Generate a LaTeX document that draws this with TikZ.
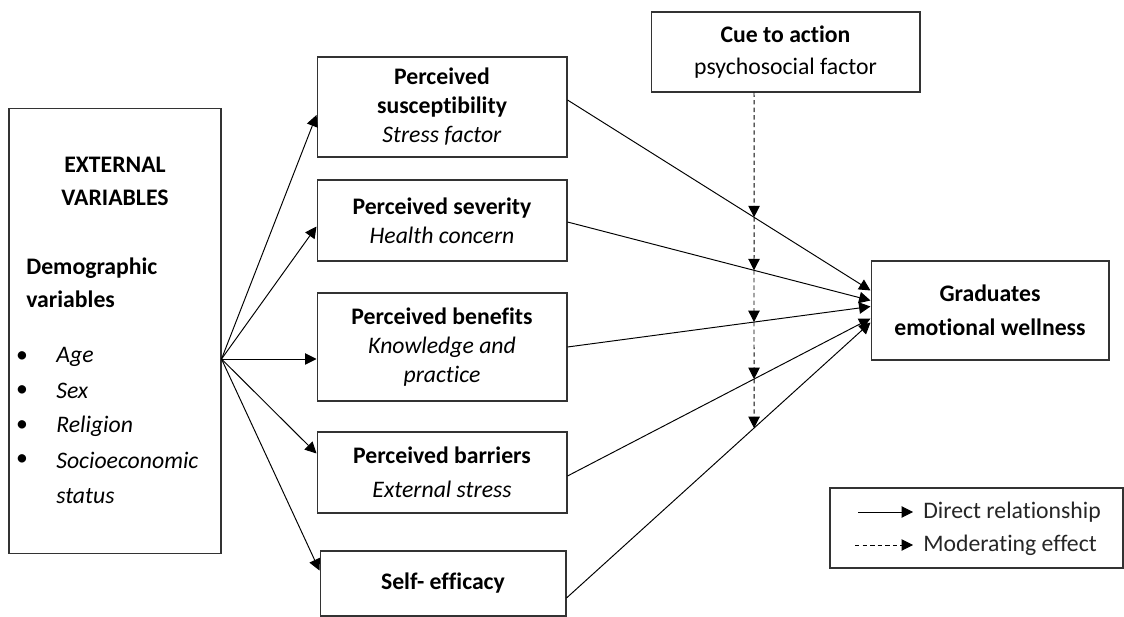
\documentclass[tikz,border=0pt]{standalone}
\usepackage{fontspec}
\setmainfont{Carlito}[Ligatures={NoCommon,NoContextual}, RawFeature={-liga;-clig;-calt;-dlig}]
\usepackage{tikz}
\usetikzlibrary{arrows.meta,positioning,calc}

\begin{document}
\begin{tikzpicture}[
    x=0.02cm, y=-0.02cm,
    box/.style={rectangle, draw=black!80, line width=0.6pt, align=center,
                inner sep=0pt, font=\fontsize{13.5}{16.5}\selectfont},
    txt/.style={inner sep=0pt, font=\fontsize{13.5}{18.5}\selectfont},
    link/.style={line width=0.55pt, -{Triangle[length=6.5pt,width=6.5pt]}},
    modlink/.style={link, dash pattern=on 2.5pt off 1.8pt},
]
    \useasboundingbox (0,0) rectangle (1124,617);

    % External variables
    \node[box, minimum width=4.24cm, minimum height=8.92cm] (ext) at (115,331) {};
    \node[txt, font=\fontsize{13.5}{18.7}\selectfont\bfseries, align=center] (exttitle) at (115,181) {EXTERNAL\\VARIABLES};
    \node[txt, font=\fontsize{13.5}{18.7}\selectfont\bfseries, align=left, anchor=west] (demo) at (26,283) {Demographic\\variables};
    \node[txt] (b1) at (22,357) {•};
    \node[txt, anchor=west, font=\fontsize{13.5}{18.5}\selectfont\itshape] (age) at (56,357) {Age};
    \node[txt] (b2) at (22,391) {•};
    \node[txt, anchor=west, font=\fontsize{13.5}{18.5}\selectfont\itshape] (sex) at (56,391) {Sex};
    \node[txt] (b3) at (22,426) {•};
    \node[txt, anchor=west, font=\fontsize{13.5}{18.5}\selectfont\itshape] (rel) at (56,426) {Religion};
    \node[txt] (b4) at (22,460) {•};
    \node[txt, anchor=west, align=left, font=\fontsize{13.5}{19.8}\selectfont\itshape] (ses) at (56,478) {Socioeconomic\\status};

    % HBM constructs
    \node[box, minimum width=5cm, minimum height=2cm] (sus) at (442,107)
        {\textbf{Perceived}\\\textbf{susceptibility}\\\textit{Stress factor}};
    \node[box, minimum width=5cm, minimum height=1.62cm] (sev) at (442,220.5)
        {\textbf{Perceived severity}\\\textit{Health concern}};
    \node[box, minimum width=5cm, minimum height=2.16cm] (ben) at (442,347)
        {\textbf{Perceived benefits}\\\textit{Knowledge and}\\\textit{practice}};
    \node[box, minimum width=5cm, minimum height=1.62cm] (bar) at (442,472.5)
        {\textbf{Perceived barriers}\\[3pt]\textit{External stress}};
    \node[box, minimum width=4.92cm, minimum height=1.3cm] (self) at (443,583.5)
        {\textbf{Self- efficacy}};

    % Cue and outcome
    \node[box, minimum width=5.38cm, minimum height=1.6cm] (cue) at (785.5,52)
        {\textbf{Cue to action}\\[2pt]psychosocial factor};
    \node[box, minimum width=4.76cm, minimum height=1.98cm] (grad) at (990,310.5)
        {\textbf{Graduates}\\[3pt]\textbf{emotional wellness}};

    % External variables -> constructs
    \coordinate (src) at (ext.east |- 0,359);
    \draw[link] (src) -- ($(sus.west)+(0,8)$);
    \draw[link] (src) -- ($(sev.west)+(0,6)$);
    \draw[link] (src) -- (ben.west |- src);
    \draw[link] (src) -- ($(bar.west)+(0,-19)$);
    \draw[link] (src) -- ($(self.west)+(0,-13)$);

    % Constructs -> wellness
    \coordinate (s1) at ($(sus.east)+(0,-7)$);
    \coordinate (s2) at ($(sev.east)+(0,1.5)$);
    \coordinate (s3) at (ben.east);
    \coordinate (s4) at ($(bar.east)+(0,3.5)$);
    \coordinate (s5) at ($(self.east)+(0,14.5)$);
    \coordinate (e1) at ($(grad.west)+(0,-20)$);
    \coordinate (e2) at ($(grad.west)+(0,-10)$);
    \coordinate (e3) at ($(grad.west)+(0,-4)$);
    \coordinate (e4) at ($(grad.west)+(0,8)$);
    \coordinate (e5) at ($(grad.west)+(0,12)$);
    \foreach \i in {1,...,5}
        \draw[link] (s\i) -- (e\i);

    % Moderating effect of cue to action
    \coordinate (mtop) at ($(cue.south)+(-31.5,0)$);
    \coordinate (mbot) at (mtop |- 0,600);
    \foreach \i in {1,...,5}
        \coordinate (m\i) at (intersection of mtop--mbot and s\i--e\i);
    \draw[modlink] (mtop) -- (m1);
    \draw[modlink] (m1) -- (m2);
    \draw[modlink] (m2) -- (m3);
    \draw[modlink] (m3) -- (m4);
    \draw[modlink] (m4) -- (m5);

    % Legend
    \draw[draw=black!80, line width=0.6pt] (830,488) rectangle (1123,568);
    \coordinate (l1) at (858,512);
    \coordinate (l2) at (913,512);
    \coordinate (l3) at (855,545);
    \coordinate (l4) at (913,545);
    \draw[link] (l1) -- (l2);
    \draw[modlink] (l3) -- (l4);
    \node[txt, anchor=west, text=black!85] (direct) at (923,512) {Direct relationship};
    \node[txt, anchor=west, text=black!85] (moder) at (923,545) {Moderating effect};
\end{tikzpicture}
\end{document}
